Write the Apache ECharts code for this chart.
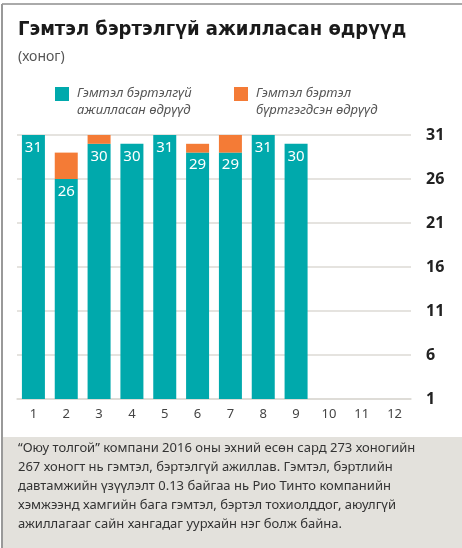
<!DOCTYPE html>
<html>
<head>
    <meta charset="utf-8">
    <title>Гэмтэл бэртэлгүй ажилласан өдрүүд</title>
    <script src="https://cdn.jsdelivr.net/npm/echarts@6/dist/echarts.min.js"></script>
    <style>
        html, body { margin: 0; padding: 0; background: #fff; }
        #chart { width: 462px; height: 548px; }
    </style>
</head>
<body>
<div id="chart"></div>
<script type="text/javascript">
    // сарууд
    var months = ['1', '2', '3', '4', '5', '6', '7', '8', '9', '10', '11', '12'];
    // гэмтэл бэртэлгүй ажилласан өдрүүд
    var safeDays = [31, 26, 30, 30, 31, 29, 29, 31, 30, '-', '-', '-'];
    // гэмтэл бэртэл бүртгэгдсэн өдрүүд
    var injuryDays = [0, 3, 1, 0, 0, 1, 2, 0, 0, '-', '-', '-'];
    var yMin = 1, yMax = 31, yStep = 5;

    var legendNames = ['Гэмтэл бэртэлгүй\nажилласан өдрүүд', 'Гэмтэл бэртэл\nбүртгэгдсэн өдрүүд'];
    var note = '“Оюу толгой” компани 2016 оны эхний есөн сард 273 хоногийн\n' +
        '267 хоногт нь гэмтэл, бэртэлгүй ажиллав. Гэмтэл, бэртлийн\n' +
        'давтамжийн үзүүлэлт 0.13 байгаа нь Рио Тинто компанийн\n' +
        'хэмжээнд хамгийн бага гэмтэл, бэртэл тохиолддог, аюулгүй\n' +
        'ажиллагааг сайн хангадаг уурхайн нэг болж байна.';

    var teal = '#00a9ac', orange = '#f47b36';
    var font = '"Noto Sans", sans-serif';

    var chart = echarts.init(document.getElementById('chart'));
    var option = {
        animation: false,
        textStyle: { fontFamily: font },
        grid: { left: 17, right: 51, top: 135, bottom: 149 },
        xAxis: {
            type: 'category',
            data: months,
            axisLine: { lineStyle: { color: '#dcdad5', width: 1.5 } },
            axisTick: { show: false },
            axisLabel: { color: '#444', fontSize: 13, margin: 9 }
        },
        yAxis: {
            type: 'value',
            position: 'right',
            min: yMin, max: yMax, interval: yStep,
            axisLine: { show: false },
            axisTick: { show: false },
            splitLine: { lineStyle: { color: '#dcdad5', width: 1.5 } },
            axisLabel: { color: '#222', fontSize: 16, fontWeight: 'bold', margin: 15 }
        },
        series: [
            {
                name: legendNames[0], type: 'bar', stack: 'days',
                data: safeDays, barWidth: 23,
                itemStyle: { color: teal },
                label: {
                    show: true, position: 'insideTop', distance: 5,
                    color: '#fff', fontSize: 15
                }
            },
            {
                name: legendNames[1], type: 'bar', stack: 'days',
                data: injuryDays, barWidth: 23,
                itemStyle: { color: orange }
            }
        ],
        graphic: [
            // хүрээ
            { type: 'line', shape: { x1: 2, y1: 4, x2: 462, y2: 4 }, style: { stroke: '#aaa', lineWidth: 2 } },
            { type: 'line', shape: { x1: 2, y1: 4, x2: 2, y2: 548 }, style: { stroke: '#999', lineWidth: 2 } },
            {
                type: 'text', left: 18, top: 20,
                style: { text: 'Гэмтэл бэртэлгүй ажилласан өдрүүд', fontSize: 20, fontWeight: 'bold',
                    fontFamily: '"DejaVu Sans Condensed", sans-serif', fill: '#1a1a1a' }
            },
            {
                type: 'text', left: 18, top: 50,
                style: { text: '(хоног)', fontSize: 14, fill: '#555', fontFamily: font }
            },
            // тайлбар
            { type: 'rect', shape: { x: 55, y: 87, width: 14, height: 14 }, style: { fill: teal } },
            {
                type: 'text', left: 77, top: 85,
                style: { text: legendNames[0], fontSize: 13, fontStyle: 'italic', fill: '#555',
                    lineHeight: 17, fontFamily: font }
            },
            { type: 'rect', shape: { x: 234, y: 87, width: 14, height: 14 }, style: { fill: orange } },
            {
                type: 'text', left: 256, top: 85,
                style: { text: legendNames[1], fontSize: 13, fontStyle: 'italic', fill: '#555',
                    lineHeight: 17, fontFamily: font }
            },
            // доод тайлбар
            { type: 'rect', shape: { x: 3, y: 437, width: 459, height: 111 }, style: { fill: '#e3e1dc' } },
            {
                type: 'text', left: 18, top: 439,
                style: { text: note, fontSize: 13, fill: '#333', lineHeight: 19, fontFamily: font }
            }
        ]
    };
    chart.setOption(option);
</script>
</body>
</html>
